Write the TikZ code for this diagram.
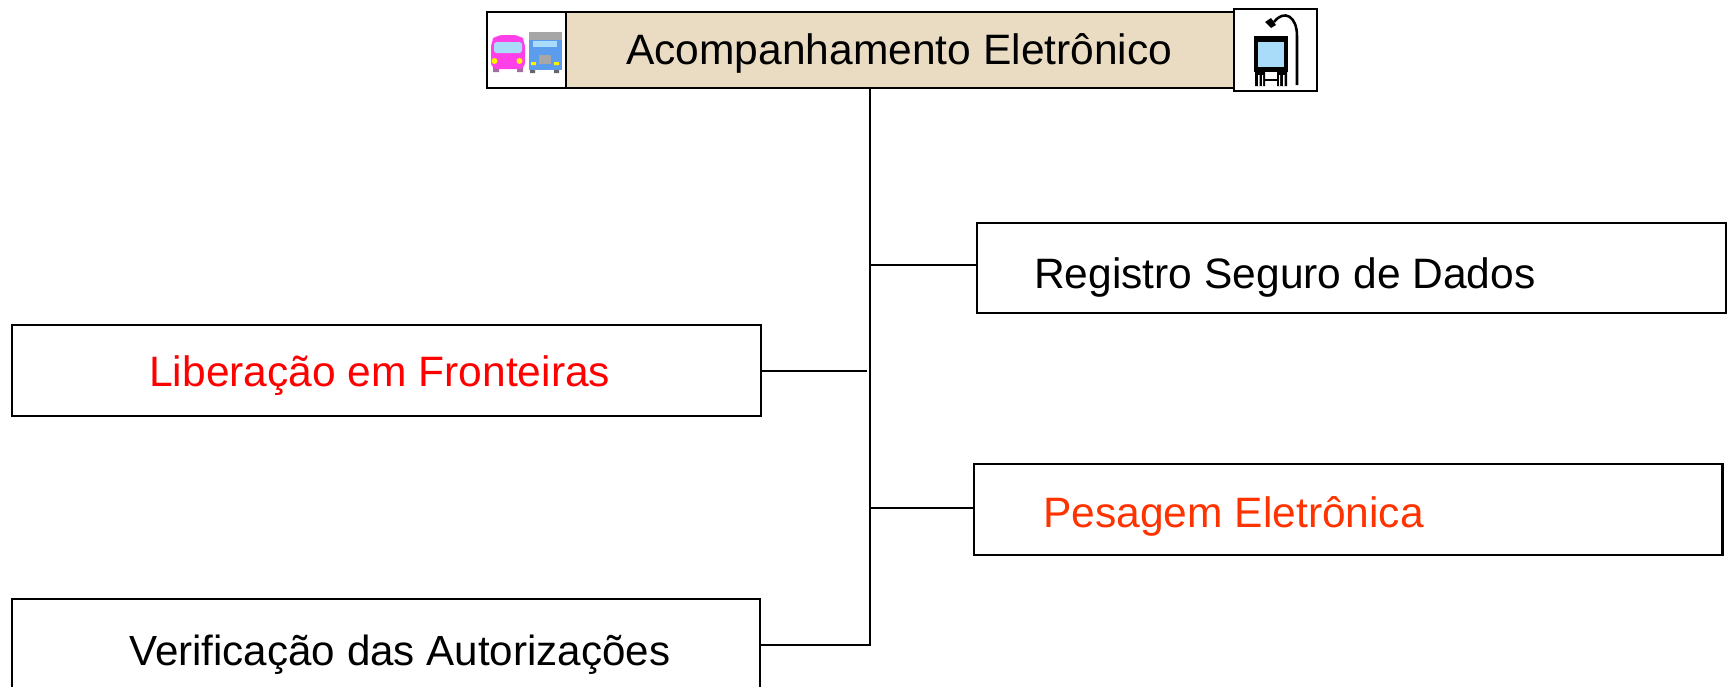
\documentclass[tikz,border=0pt]{standalone}
\usepackage{fontspec}
\setmainfont{Liberation Sans}
\definecolor{beige}{HTML}{E9DCC3}
\definecolor{redorange}{HTML}{FF3300}
\definecolor{buspink}{HTML}{FF40E8}
\definecolor{truckblue}{HTML}{5C9CEC}
\definecolor{glass}{HTML}{A8DCF8}
\tikzset{
  box/.style={draw=black,line width=1.6pt,fill=white,inner sep=0pt,outer sep=0pt,anchor=north west},
  lbl/.style={anchor=base west,inner sep=0pt,font=\fontsize{31.9}{38}\selectfont},
  link/.style={draw=black,line width=1.6pt}
}
\begin{document}
\begin{tikzpicture}[x=0.75pt,y=-0.75pt]
\path[use as bounding box,clip] (0,0) rectangle (1729,686);
% boxes
\node[box,minimum width=79.5*0.75pt,minimum height=76*0.75pt] (busicon) at (487,12.3) {};
\node[box,fill=beige,minimum width=667.7*0.75pt,minimum height=76*0.75pt] (title) at (566.3,12.3) {};
\node[box,minimum width=82.7*0.75pt,minimum height=81.4*0.75pt] (tramicon) at (1234,9.3) {};
\node[box,minimum width=748.7*0.75pt,minimum height=90.3*0.75pt] (reg) at (977,222.7) {};
\node[box,minimum width=748.7*0.75pt,minimum height=90.4*0.75pt] (lib) at (12,325.3) {};
\node[box,minimum width=748.2*0.75pt,minimum height=91.1*0.75pt] (pes) at (974.3,464.2) {};
\node[box,minimum width=748*0.75pt,minimum height=95*0.75pt] (ver) at (12,599) {};
% labels
\node[lbl] (ttitle) at (626,64) {Acompanhamento Eletrônico};
\node[lbl] (treg) at (1034,288) {Registro Seguro de Dados};
\node[lbl,text=red] (tlib) at (149,386) {Liberação em Fronteiras};
\node[lbl,text=redorange] (tpes) at (1043,527) {Pesagem Eletrônica};
\node[lbl,font=\fontsize{31.6}{38}\selectfont] (tver) at (129,665) {Verificação das Autorizações};
% connectors
\coordinate (t1) at (869.7,265);
\coordinate (t2) at (866.7,371.3);
\coordinate (t3) at (869.7,508.3);
\coordinate (t4) at (869.7,644.7);
\draw[link] (title.south -| t4) -- (t4) -- (t4 -| ver.east);
\draw[link] (t1) -- (t1 -| reg.west);
\draw[link] (t2) -- (t2 -| lib.east);
\draw[link] (t3) -- (t3 -| pes.west);
% bus icon
\fill[gray!70!buspink] (493,66) rectangle (499,72) (517,66) rectangle (523,72);
\fill[buspink,rounded corners=5] (491,69) -- (491,41) -- (496,35) -- (520,35) -- (525,41) -- (525,69) -- cycle;
\fill[glass,rounded corners=2] (494,42) rectangle (522,53);
\fill[yellow] (494.5,61) circle (3) (519.5,61) circle (3);
% truck icon
\fill[gray!70] (529,32) rectangle (562,41);
\fill[truckblue] (529,40) rectangle (562,70);
\fill[glass] (533,41) rectangle (557,47);
\fill[gray!70] (539,55) rectangle (551,64);
\fill[yellow] (531,62) rectangle (536,65) (554,62) rectangle (559,65);
\fill[gray!80!black] (530,70) rectangle (535,73) (554,70) rectangle (559,73);
% tram icon
\fill[black] (1254,36) rectangle (1288,72);
\fill[glass] (1258,42) rectangle (1284,67);
\draw[black,line width=1.9pt] (1297,85) -- (1297,36) .. controls (1297,16) and (1284,9) .. (1274,22);
\fill[black] (1265,22) -- (1271,18) -- (1276,25) -- (1271,28) -- cycle;
\fill[black] (1255,72) rectangle (1265,86) (1277,72) rectangle (1287,86);
\fill[white] (1258,75) rectangle (1259.5,86) (1262,75) rectangle (1263,86) (1279,75) rectangle (1280,86) (1283,75) rectangle (1284.5,86);
\draw[black,line width=0.8pt] (1265,80) -- (1277,80);
\end{tikzpicture}
\end{document}
